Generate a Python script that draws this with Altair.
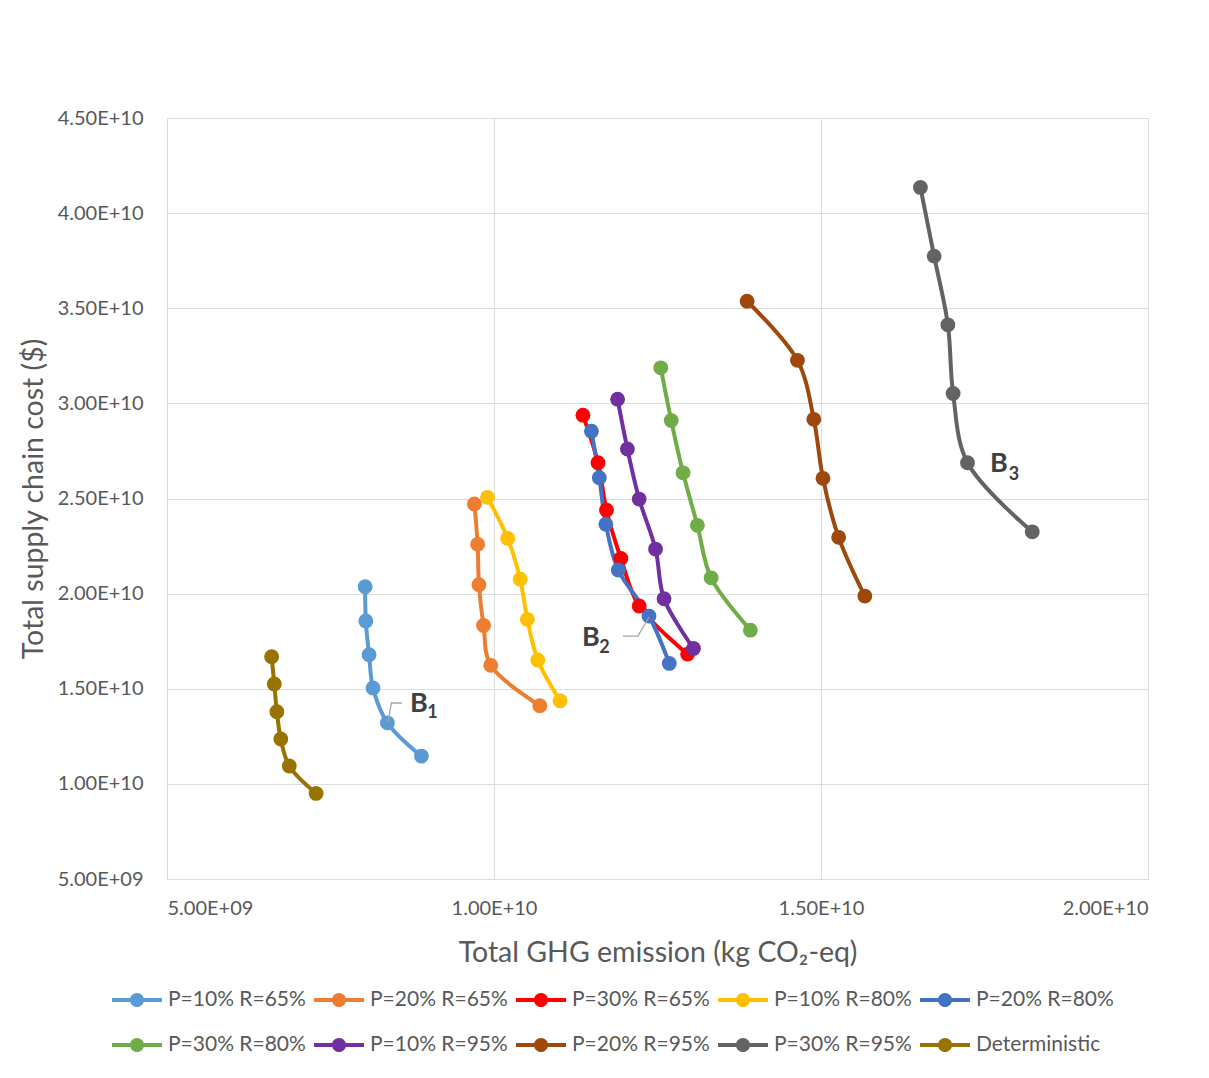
import altair as alt
import pandas as pd

series_names = ["P=10% R=65%", "P=20% R=65%", "P=30% R=65%", "P=10% R=80%", "P=20% R=80%",
                "P=30% R=80%", "P=10% R=95%", "P=20% R=95%", "P=30% R=95%", "Deterministic"]
series_colors = ["#5B9BD5", "#ED7D31", "#FF0000", "#FFC000", "#4472C4",
                 "#70AD47", "#7030A0", "#9E480E", "#636363", "#997300"]

ghg = {
    "P=10% R=65%": [8.03e9, 8.04e9, 8.09e9, 8.15e9, 8.37e9, 8.89e9],
    "P=20% R=65%": [9.70e9, 9.75e9, 9.77e9, 9.84e9, 9.95e9, 10.70e9],
    "P=30% R=65%": [11.36e9, 11.59e9, 11.72e9, 11.94e9, 12.22e9, 12.96e9],
    "P=10% R=80%": [9.90e9, 10.21e9, 10.40e9, 10.51e9, 10.67e9, 11.01e9],
    "P=20% R=80%": [11.49e9, 11.61e9, 11.71e9, 11.90e9, 12.37e9, 12.68e9],
    "P=30% R=80%": [12.55e9, 12.71e9, 12.89e9, 13.11e9, 13.32e9, 13.92e9],
    "P=10% R=95%": [11.89e9, 12.04e9, 12.22e9, 12.47e9, 12.60e9, 13.05e9],
    "P=20% R=95%": [13.87e9, 14.64e9, 14.89e9, 15.03e9, 15.27e9, 15.67e9],
    "P=30% R=95%": [16.52e9, 16.73e9, 16.94e9, 17.02e9, 17.24e9, 18.23e9],
    "Deterministic": [6.60e9, 6.64e9, 6.68e9, 6.74e9, 6.87e9, 7.28e9],
}
cost = {
    "P=10% R=65%": [20.36e9, 18.56e9, 16.79e9, 15.04e9, 13.21e9, 11.46e9],
    "P=20% R=65%": [24.71e9, 22.59e9, 20.47e9, 18.33e9, 16.23e9, 14.11e9],
    "P=30% R=65%": [29.38e9, 26.88e9, 24.39e9, 21.85e9, 19.35e9, 16.82e9],
    "P=10% R=80%": [25.06e9, 22.90e9, 20.76e9, 18.65e9, 16.51e9, 14.37e9],
    "P=20% R=80%": [28.54e9, 26.09e9, 23.65e9, 21.24e9, 18.82e9, 16.33e9],
    "P=30% R=80%": [31.87e9, 29.10e9, 26.35e9, 23.59e9, 20.83e9, 18.08e9],
    "P=10% R=95%": [30.22e9, 27.60e9, 24.97e9, 22.34e9, 19.73e9, 17.12e9],
    "P=20% R=95%": [35.37e9, 32.26e9, 29.16e9, 26.06e9, 22.96e9, 19.87e9],
    "P=30% R=95%": [41.35e9, 37.74e9, 34.13e9, 30.52e9, 26.88e9, 23.25e9],
    "Deterministic": [16.68e9, 15.25e9, 13.79e9, 12.36e9, 10.94e9, 9.50e9],
}

# annotation labels
ann_text = ["B", "B", "B"]
ann_x = [8.85e9, 11.48e9, 17.72e9]
ann_y = [14.20e9, 17.66e9, 26.81e9]
sub_text = ["1", "2", "3"]
sub_x = [9.06e9, 11.69e9, 17.95e9]
sub_y = [13.70e9, 17.12e9, 26.26e9]
# leader lines
lead_group = ["B1", "B1", "B1", "B2", "B2", "B2"]
lead_x = [8.38e9, 8.43e9, 8.59e9, 12.37e9, 12.20e9, 11.97e9]
lead_y = [13.25e9, 14.25e9, 14.25e9, 18.77e9, 17.77e9, 17.77e9]

x_ticks = [5e9, 1e10, 1.5e10, 2e10]
y_ticks = [5e9, 1e10, 1.5e10, 2e10, 2.5e10, 3e10, 3.5e10, 4e10, 4.5e10]

rows = []
for s in series_names:
    for i, (xv, yv) in enumerate(zip(ghg[s], cost[s])):
        rows.append({"series": s, "idx": i, "x": xv, "y": yv})
df = pd.DataFrame(rows)
ann_df = pd.DataFrame({"x": ann_x, "y": ann_y, "t": ann_text})
sub_df = pd.DataFrame({"x": sub_x, "y": sub_y, "t": sub_text})
lead_df = pd.DataFrame({"g": lead_group, "i": list(range(len(lead_x))), "x": lead_x, "y": lead_y})

FONT = "Lato"
GRAY = "#595959"
LABEL_EXPR = ("datum.value < 1e10 ? replace(upper(format(datum.value, '.2e')), 'E+', 'E+0') "
              ": upper(format(datum.value, '.2e'))")

xscale = alt.Scale(domain=[5e9, 2e10], nice=False, zero=False)
yscale = alt.Scale(domain=[5e9, 4.5e10], nice=False, zero=False)

xaxis = alt.Axis(values=x_ticks, labelExpr=LABEL_EXPR,
                 title="Total GHG emission (kg CO\u2082-eq)", grid=True, ticks=False, domain=False,
                 labelFontSize=20, labelColor=GRAY, labelPadding=19, labelFont=FONT,
                 titleFontSize=28.5, titleColor=GRAY, titleFontWeight="normal", titleFont=FONT,
                 titleX=490.5, titleY=73, titleBaseline="middle", titleAlign="center")
yaxis = alt.Axis(values=y_ticks, labelExpr=LABEL_EXPR,
                 title="Total supply chain cost ($)", grid=True, ticks=False, domain=False,
                 labelFontSize=20, labelColor=GRAY, labelPadding=24, labelFont=FONT,
                 titleFontSize=28.5, titleColor=GRAY, titleFontWeight="normal", titleFont=FONT,
                 titleX=-134, titleY=380.5, titleAngle=270, titleBaseline="middle", titleAlign="center")

color_scale = alt.Scale(domain=series_names, range=series_colors)

legend_path = ("M-1.5625,-0.12 L1.5625,-0.12 L1.5625,0.12 L-1.5625,0.12 Z "
               "M0.44,0 A0.44,0.44 0 1,1 -0.44,0 A0.44,0.44 0 1,1 0.44,0 Z")

legend = alt.Legend(title=None, orient="none", legendX=-46, legendY=866, direction="horizontal",
                    columns=5, symbolType=legend_path, symbolSize=1024, symbolStrokeWidth=0,
                    labelFontSize=21, labelColor=GRAY, labelFont=FONT, labelOffset=15,
                    rowPadding=19, columnPadding=8, gridAlign="all", labelLimit=300, padding=0)

lines = alt.Chart(df).mark_line(strokeWidth=4, interpolate="catmull-rom").encode(
    x=alt.X("x:Q", scale=xscale, axis=xaxis),
    y=alt.Y("y:Q", scale=yscale, axis=yaxis),
    color=alt.Color("series:N", scale=color_scale, legend=legend),
    order=alt.Order("idx:Q"),
)
points = alt.Chart(df).mark_circle(size=220, opacity=1).encode(
    x=alt.X("x:Q", scale=xscale),
    y=alt.Y("y:Q", scale=yscale),
    color=alt.Color("series:N", scale=color_scale, legend=legend),
)
leaders = alt.Chart(lead_df).mark_line(color="#A6A6A6", strokeWidth=1.3).encode(
    x="x:Q", y="y:Q", detail="g:N", order="i:Q")
ann = alt.Chart(ann_df).mark_text(fontSize=27, fontWeight="bold", color="#404040", font=FONT).encode(
    x="x:Q", y="y:Q", text="t:N")
sub = alt.Chart(sub_df).mark_text(fontSize=18, fontWeight="bold", color="#404040", font=FONT).encode(
    x="x:Q", y="y:Q", text="t:N")

chart = alt.layer(lines, points, leaders, ann, sub).properties(
    width=981, height=761,
    autosize=alt.AutoSizeParams(type="none"),
    padding={"left": 159, "top": 110, "right": 53, "bottom": 185},
).configure_view(stroke=None).configure_axis(
    gridColor="#D9D9D9", gridWidth=1.3
).configure(background="white")

chart.save("out.html", embed_options={"renderer": "svg", "actions": False})
